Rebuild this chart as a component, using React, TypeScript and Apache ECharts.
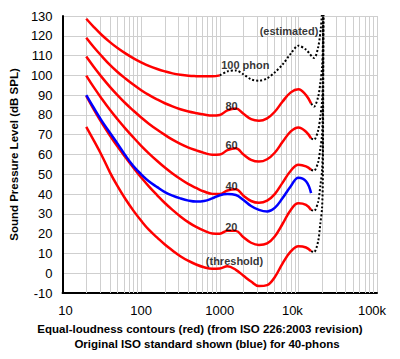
import { useEffect, useRef } from "react";
import * as echarts from "echarts";

const freqs = [20, 25, 31.5, 40, 50, 63, 80, 100, 125, 160, 200, 250, 315, 400, 500, 630, 800, 1000, 1250, 1600, 2000, 2500, 3150, 4000, 5000, 6300, 8000, 10000, 12500, 14500];

const threshold = [74, 67, 59.5, 51, 44, 37.5, 31.5, 26.5, 22, 18, 14.5, 11.5, 8.6, 6.2, 4.4, 3.0, 2.2, 2.4, 3.5, 1.7, -1.3, -4.2, -6.5, -6, -2, 5, 11, 13.6, 13, 11.2];
const phon20 = [89.6, 82.7, 76.0, 69.6, 64.0, 58.6, 53.2, 48.4, 43.9, 39.4, 35.5, 32.0, 28.7, 25.7, 23.4, 21.5, 20.1, 20.0, 21.5, 21.4, 18.2, 15.4, 14.3, 15.1, 18.6, 25.0, 32.0, 35.3, 34.5, 32.0];
const phon40 = [99.9, 93.9, 88.2, 82.6, 77.8, 73.1, 68.5, 64.4, 60.6, 56.7, 53.4, 50.4, 47.6, 45.0, 43.1, 41.3, 40.1, 40.0, 41.8, 42.5, 39.2, 36.5, 35.6, 36.7, 40.0, 45.8, 51.8, 54.8, 54.0, 52.3];
const phon60 = [109.5, 104.2, 99.1, 94.2, 90.0, 85.9, 82.1, 78.7, 75.6, 72.5, 69.9, 67.5, 65.4, 63.5, 62.1, 60.8, 59.9, 60.0, 62.2, 63.2, 60.0, 57.3, 56.4, 57.6, 60.9, 66.4, 71.7, 73.7, 71.5, 68.1];
const phon80 = [119.0, 114.2, 109.7, 105.3, 101.7, 98.4, 95.2, 92.5, 90.1, 87.8, 85.9, 84.3, 82.9, 81.7, 80.9, 80.2, 79.7, 80.0, 82.3, 83.2, 80.6, 77.9, 77.1, 78.3, 81.6, 86.8, 91.4, 93.0, 90.0, 85.8];
const phon100 = [128.6, 124.4, 120.4, 116.8, 113.8, 111.1, 108.6, 106.6, 104.8, 103.2, 102.0, 101.0, 100.3, 99.8, 99.6, 99.5, 99.5, 100.0];
const iso40old = [90, 83.5, 77, 71, 65.5, 59.5, 54, 50, 46.5, 43.5, 41, 39.2, 37.8, 36.7, 36.2, 36.5, 37.8, 39.4, 40, 39.5, 37, 34, 32, 31.2, 33, 38, 44, 48.3, 46.5, 40.5];

const est100Freqs = [1000, 1250, 1600, 2000, 2500, 3150, 4000, 5000, 6300, 8000, 10000, 12500, 15800, 17800, 19300, 20500, 20700];
const est100 = [100, 102, 102.5, 100.5, 98, 97.3, 98.5, 101.5, 105.5, 111, 115, 113, 108.8, 114, 124, 140, 150];

const extFreqs = [14500, 15800, 17800, 19000, 20000, 20500, 20700];
const extThreshold = [11.2, 10.7, 16, 25, 33, 50, 140];
const ext20 = [32, 31.5, 36, 44, 52, 68, 140];
const ext40 = [52.3, 51.8, 56, 63, 70, 85, 140];
const ext60 = [68.1, 67.5, 72, 79, 87, 100, 140];
const ext80 = [85.8, 84.2, 89, 96, 104, 116, 140];

const minorFreqs = [20, 30, 40, 50, 60, 70, 80, 90, 200, 300, 400, 500, 600, 700, 800, 900, 2000, 3000, 4000, 5000, 6000, 7000, 8000, 9000, 20000, 30000, 40000, 50000, 60000, 70000, 80000, 90000];

const noteTexts = ["(estimated)", "100 phon", "80", "60", "40", "20", "(threshold)"];
const noteFreqs = [7600, 2110, 1410, 1410, 1410, 1400, 1540];
const noteDbs = [122.4, 105.1, 84.3, 65, 44.2, 23.4, 6.1];

const xTickVals = [10, 100, 1000, 10000, 100000];
const xTickText = ["10", "100", "1000", "10k", "100k"];
const xTickStyle = ["s10", "s0", "s0", "s10k", "s100k"];

const FONT = "'Liberation Sans', Arial, Helvetica, sans-serif";

function pairs(xs: number[], ys: number[]) {
  return ys.map((y, i) => [xs[i], y]);
}

export default function App() {
  const ref = useRef<HTMLDivElement>(null);
  useEffect(() => {
    document.body.style.margin = "0";
    const chart = echarts.init(ref.current!, null, { renderer: "svg" });
    const red = (name: string, ys: number[]) => ({
      name,
      type: "line",
      data: pairs(freqs, ys),
      smooth: 0.4,
      symbol: "none",
      z: 10,
      lineStyle: { color: "#ff0000", width: 2.5, type: "solid" },
    });
    const dotted = (name: string, xs: number[], ys: number[]) => ({
      name,
      type: "line",
      data: pairs(xs, ys),
      smooth: 0.3,
      symbol: "none",
      z: 9,
      lineStyle: { color: "#000", width: 2, type: [2, 2] },
    });
    chart.setOption({
      animation: false,
      textStyle: { fontFamily: FONT },
      grid: { left: 57, right: 23, top: 16, bottom: 66 },
      xAxis: {
        type: "log",
        logBase: 10,
        min: 10,
        max: 100000,
        axisLine: { onZero: false, lineStyle: { color: "#000", width: 2 } },
        axisTick: { show: false },
        splitLine: { show: true, lineStyle: { color: "#cfcfcf", width: 1 } },
        axisLabel: {
          color: "#000",
          fontSize: 13,
          fontFamily: FONT,
          margin: 11,
          formatter: (v: number) => {
            const i = xTickVals.findIndex((t) => Math.abs(t - v) / t < 1e-6);
            if (i < 0) return "";
            return "{" + xTickStyle[i] + "|" + xTickText[i] + "}";
          },
          rich: {
            s0: { fontSize: 13, fontFamily: FONT, color: "#000" },
            s10: { fontSize: 13, fontFamily: FONT, color: "#000", padding: [0, 0, 0, 6] },
            s10k: { fontSize: 13, fontFamily: FONT, color: "#000", padding: [0, 12, 0, 0] },
            s100k: { fontSize: 13, fontFamily: FONT, color: "#000", padding: [0, 10, 0, 0] },
          },
        },
      },
      yAxis: {
        type: "value",
        min: -10,
        max: 130,
        interval: 10,
        name: "Sound Pressure Level (dB SPL)",
        nameLocation: "middle",
        nameGap: 39,
        nameTextStyle: { fontWeight: "bold", fontSize: 11.5, color: "#000", fontFamily: FONT },
        axisLine: { show: true, lineStyle: { color: "#000", width: 2 } },
        axisTick: { show: false },
        splitLine: { show: true, lineStyle: { color: "#cfcfcf", width: 1 } },
        axisLabel: { color: "#000", fontSize: 13, margin: 10, fontFamily: FONT },
      },
      series: [
        {
          name: "grid-minor",
          type: "line",
          data: [],
          z: 1,
          markLine: {
            z: 1,
            silent: true,
            symbol: "none",
            label: { show: false },
            lineStyle: { color: "#cfcfcf", type: "solid", width: 1 },
            data: minorFreqs.map((f) => ({ xAxis: f })),
          },
        },
        dotted("est100", est100Freqs, est100),
        dotted("ext80", extFreqs, ext80),
        dotted("ext60", extFreqs, ext60),
        dotted("ext40", extFreqs, ext40),
        dotted("ext20", extFreqs, ext20),
        dotted("extThreshold", extFreqs, extThreshold),
        {
          name: "100 phon",
          type: "line",
          data: pairs(freqs, phon100),
          smooth: 0.4,
          symbol: "none",
          z: 10,
          lineStyle: { color: "#ff0000", width: 2.5, type: "solid" },
        },
        red("80 phon", phon80),
        red("60 phon", phon60),
        red("40 phon", phon40),
        red("20 phon", phon20),
        red("threshold", threshold),
        {
          name: "ISO 40 phon (original)",
          type: "line",
          data: pairs(freqs, iso40old),
          smooth: 0.4,
          symbol: "none",
          z: 11,
          lineStyle: { color: "#0000ff", width: 2.5, type: "solid" },
        },
        {
          name: "notes",
          type: "scatter",
          symbolSize: 1,
          itemStyle: { color: "rgba(0,0,0,0)" },
          z: 12,
          data: noteTexts.map((t, i) => [noteFreqs[i], noteDbs[i], t]),
          label: {
            show: true,
            position: "inside",
            formatter: (p: any) => p.data[2],
            color: "#000",
            fontWeight: "bold",
            fontSize: 11,
            fontFamily: FONT,
          },
        },
      ],
      graphic: [
        {
          type: "text",
          x: 200,
          y: 329,
          style: {
            text: "Equal-loudness contours (red) (from ISO 226:2003 revision)",
            fill: "#000",
            font: "bold 11.5px " + FONT,
            textAlign: "center",
            textVerticalAlign: "middle",
          },
        },
        {
          type: "text",
          x: 207,
          y: 344,
          style: {
            text: "Original ISO standard shown (blue) for 40-phons",
            fill: "#000",
            font: "bold 11.5px " + FONT,
            textAlign: "center",
            textVerticalAlign: "middle",
          },
        },
      ],
    });
    return () => chart.dispose();
  }, []);
  return <div ref={ref} style={{ width: 400, height: 359 }} />;
}
